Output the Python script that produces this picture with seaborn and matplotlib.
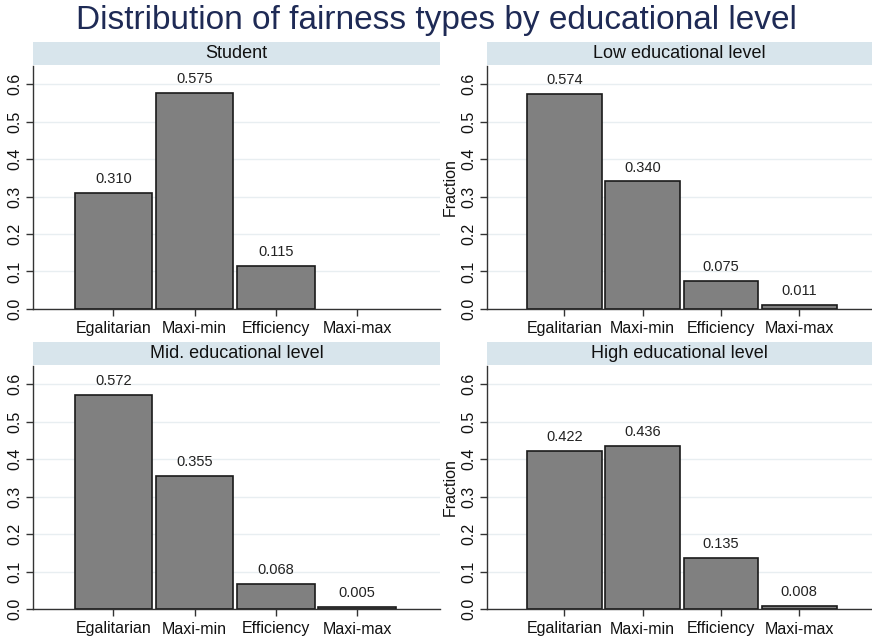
import matplotlib
matplotlib.use("Agg")
import matplotlib.pyplot as plt
import seaborn as sns
import pandas as pd

sns.set_theme(style="white")
plt.rcParams['font.family'] = ['Liberation Sans', 'DejaVu Sans']

categories = ["Egalitarian", "Maxi-min", "Efficiency", "Maxi-max"]
panels = ["Student", "Low educational level", "Mid. educational level", "High educational level"]
student = [0.310, 0.575, 0.115, 0.0]
low_edu = [0.574, 0.340, 0.075, 0.011]
mid_edu = [0.572, 0.355, 0.068, 0.005]
high_edu = [0.422, 0.436, 0.135, 0.008]
labels_shown = [[True, True, True, False], [True] * 4, [True] * 4, [True] * 4]
yticks = [0.0, 0.1, 0.2, 0.3, 0.4, 0.5, 0.6]
ytick_labels = ["0.0", "0.1", "0.2", "0.3", "0.4", "0.5", "0.6"]

series = [student, low_edu, mid_edu, high_edu]

W, H = 872, 641
fig = plt.figure(figsize=(W / 100, H / 100), dpi=100)
fig.patch.set_facecolor("white")

# pixel boxes: (left, right, strip_top, strip_bottom, ax_top, ax_bottom)
boxes = [
    (33, 440, 42, 65, 66, 309),
    (487, 872, 42, 65, 66, 309),
    (33, 440, 342, 365, 366, 609),
    (487, 872, 342, 365, 366, 609),
]

strip_color = "#d8e5ec"
bar_color = "#808080"
grid_color = "#e8eef1"

for i, (name, vals, box) in enumerate(zip(panels, series, boxes)):
    l, r, st, sb, at, ab = box
    # strip
    sax = fig.add_axes([l / W, 1 - sb / H, (r - l) / W, (sb - st) / H])
    sax.set_facecolor(strip_color)
    for s in sax.spines.values():
        s.set_visible(False)
    sax.set_xticks([])
    sax.set_yticks([])
    sax.text(0.5, 0.5, name, ha="center", va="center", fontsize=13,
             color="#111111", transform=sax.transAxes)

    ax = fig.add_axes([l / W, 1 - ab / H, (r - l) / W, (ab - at) / H])
    df = pd.DataFrame({"type": categories, "frac": vals})
    sns.barplot(data=df, x="type", y="frac", ax=ax, color=bar_color,
                saturation=1, width=0.955, edgecolor="#1a1a1a", linewidth=1.2)
    for p, v in zip(ax.patches, vals):
        if v == 0:
            p.set_visible(False)
    ax.set_ylim(0, 0.648)
    if i % 2 == 0:
        ax.set_xlim(-0.99, 4.02)
    else:
        ax.set_xlim(-0.99, 3.93)
    ax.set_yticks(yticks)
    ax.set_yticklabels(ytick_labels, rotation=90, va="center", fontsize=11.5)
    ax.tick_params(axis="y", length=5, width=1, color="#333333", pad=3, left=True)
    ax.tick_params(axis="x", length=5, width=1, color="#333333", pad=4, bottom=True,
                   labelsize=11.5)
    for lbl in ax.get_xticklabels():
        lbl.set_color("#111111")
    for lbl in ax.get_yticklabels():
        lbl.set_color("#111111")
    ax.yaxis.grid(True, color=grid_color, linewidth=1)
    ax.set_axisbelow(True)
    ax.set_xlabel("")
    if i % 2 == 1:
        ax.set_ylabel("Fraction", fontsize=11.5, color="#111111", labelpad=2)
    else:
        ax.set_ylabel("")
    ax.spines["top"].set_visible(False)
    ax.spines["right"].set_visible(False)
    ax.spines["left"].set_color("#333333")
    ax.spines["bottom"].set_color("#333333")
    ax.spines["left"].set_linewidth(1)
    ax.spines["bottom"].set_linewidth(1)
    for j, (p, v) in enumerate(zip(ax.patches, vals)):
        if labels_shown[i][j]:
            ax.annotate(f"{v:.3f}", (p.get_x() + p.get_width() / 2, v),
                        xytext=(0, 5), textcoords="offset points",
                        ha="center", va="bottom", fontsize=10.5, color="#222222")

fig.text(0.5, 1 - 21 / H, "Distribution of fairness types by educational level",
         ha="center", va="center", fontsize=24, color="#1e2a55")

fig.savefig("out.png", dpi=100)
